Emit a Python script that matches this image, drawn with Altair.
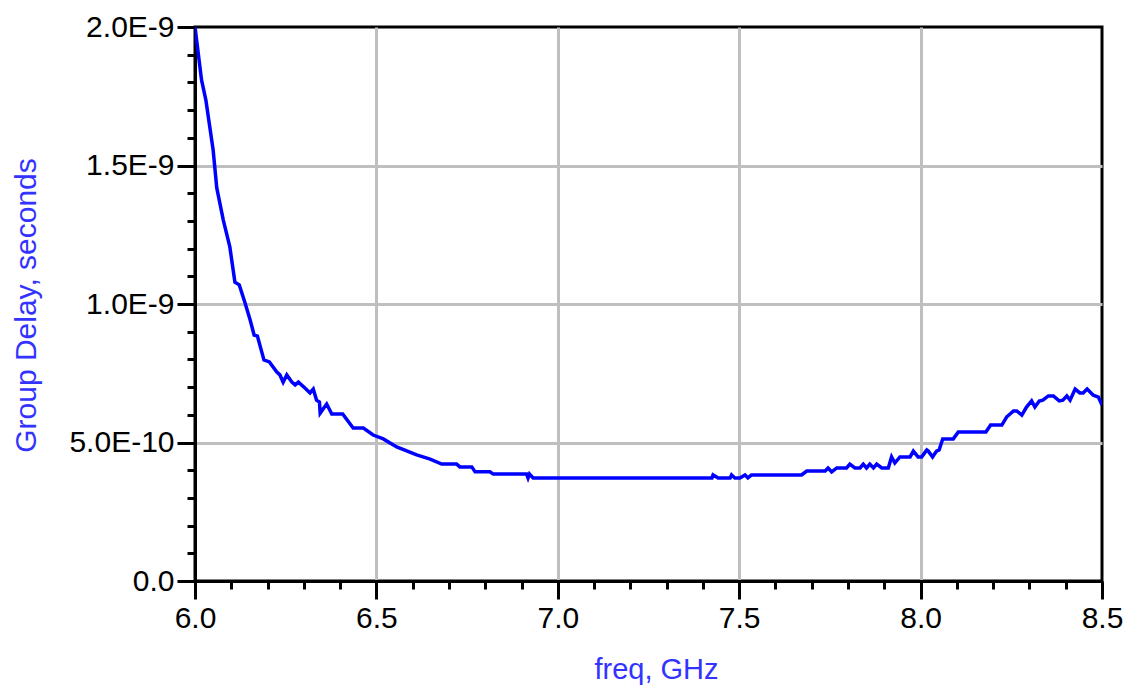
import altair as alt
import pandas as pd

freq_ghz = [
    6.000, 6.018, 6.030, 6.050, 6.060, 6.078, 6.096, 6.110, 6.122, 6.138,
    6.152, 6.163, 6.172, 6.190, 6.205, 6.225, 6.234, 6.243, 6.253, 6.267,
    6.276, 6.285, 6.303, 6.317, 6.326, 6.335, 6.343, 6.345, 6.363, 6.377,
    6.407, 6.436, 6.464, 6.491, 6.519, 6.556, 6.611, 6.648, 6.680, 6.721,
    6.730, 6.763, 6.772, 6.813, 6.822, 6.914, 6.918, 6.922, 6.932, 7.425,
    7.428, 7.442, 7.475, 7.479, 7.488, 7.502, 7.516, 7.524, 7.534, 7.672,
    7.686, 7.737, 7.745, 7.755, 7.769, 7.796, 7.805, 7.819, 7.833, 7.842,
    7.851, 7.860, 7.870, 7.879, 7.893, 7.911, 7.920, 7.929, 7.943, 7.971,
    7.980, 7.993, 8.003, 8.017, 8.021, 8.033, 8.044, 8.051, 8.061, 8.090,
    8.104, 8.180, 8.193, 8.224, 8.237, 8.256, 8.265, 8.279, 8.292, 8.306,
    8.315, 8.327, 8.337, 8.352, 8.366, 8.382, 8.392, 8.403, 8.412, 8.426,
    8.439, 8.448, 8.459, 8.476, 8.490, 8.500,
]

delay_s = [
    20.00e-10, 18.09e-10, 17.36e-10, 15.56e-10, 14.19e-10, 13.03e-10, 12.06e-10, 10.79e-10, 10.69e-10, 10.04e-10,
    9.42e-10, 8.88e-10, 8.84e-10, 7.98e-10, 7.91e-10, 7.55e-10, 7.44e-10, 7.18e-10, 7.44e-10, 7.18e-10,
    7.08e-10, 7.18e-10, 6.97e-10, 6.79e-10, 6.93e-10, 6.53e-10, 6.46e-10, 6.06e-10, 6.39e-10, 6.03e-10,
    6.03e-10, 5.52e-10, 5.52e-10, 5.27e-10, 5.13e-10, 4.84e-10, 4.55e-10, 4.40e-10, 4.22e-10, 4.22e-10,
    4.12e-10, 4.12e-10, 3.94e-10, 3.94e-10, 3.86e-10, 3.86e-10, 3.72e-10, 3.86e-10, 3.72e-10, 3.72e-10,
    3.83e-10, 3.72e-10, 3.72e-10, 3.83e-10, 3.72e-10, 3.72e-10, 3.83e-10, 3.72e-10, 3.83e-10, 3.83e-10,
    3.97e-10, 3.97e-10, 4.08e-10, 3.94e-10, 4.08e-10, 4.08e-10, 4.22e-10, 4.08e-10, 4.08e-10, 4.22e-10,
    4.08e-10, 4.22e-10, 4.08e-10, 4.22e-10, 4.08e-10, 4.08e-10, 4.48e-10, 4.26e-10, 4.48e-10, 4.48e-10,
    4.69e-10, 4.48e-10, 4.48e-10, 4.73e-10, 4.69e-10, 4.48e-10, 4.69e-10, 4.73e-10, 5.13e-10, 5.13e-10,
    5.38e-10, 5.38e-10, 5.63e-10, 5.63e-10, 5.92e-10, 6.14e-10, 6.14e-10, 5.99e-10, 6.28e-10, 6.50e-10,
    6.28e-10, 6.50e-10, 6.53e-10, 6.68e-10, 6.68e-10, 6.50e-10, 6.53e-10, 6.68e-10, 6.53e-10, 6.93e-10,
    6.79e-10, 6.79e-10, 6.93e-10, 6.71e-10, 6.64e-10, 6.35e-10,
]

x_tick_values = [6.0, 6.1, 6.2, 6.3, 6.4, 6.5, 6.6, 6.7, 6.8, 6.9,
                 7.0, 7.1, 7.2, 7.3, 7.4, 7.5, 7.6, 7.7, 7.8, 7.9,
                 8.0, 8.1, 8.2, 8.3, 8.4, 8.5]
y_tick_values = [0.0, 1e-10, 2e-10, 3e-10, 4e-10, 5e-10, 6e-10, 7e-10, 8e-10, 9e-10,
                 10e-10, 11e-10, 12e-10, 13e-10, 14e-10, 15e-10, 16e-10, 17e-10, 18e-10, 19e-10,
                 20e-10]

x_title = "freq, GHz"
y_title = "Group Delay, seconds"

df = pd.DataFrame({"freq": freq_ghz, "delay": delay_s})

X_MAJOR = "abs(datum.value*2 - round(datum.value*2)) < 1e-6"
Y_MAJOR = "abs(datum.value*2e9 - round(datum.value*2e9)) < 1e-6"

TITLE_COLOR = "#3333ff"
FONT = "Liberation Sans"

x_axis = alt.Axis(
    values=x_tick_values,
    labelExpr=f"({X_MAJOR}) ? format(datum.value, '.1f') : ''",
    tickSize={"condition": {"test": X_MAJOR, "value": 18}, "value": 8},
    gridOpacity={"condition": {"test": f"({X_MAJOR}) && datum.value > 6.01 && datum.value < 8.49", "value": 1}, "value": 0},
    labelPadding=4,
    titleX=461,
    titleY=74,
    titleFontSize=29,
    titleBaseline="top",
    titleAnchor="start",
    titleAlign="center",
)

y_axis = alt.Axis(
    values=y_tick_values,
    labelExpr=f"({Y_MAJOR}) ? (datum.value < 1e-12 ? '0.0' : upper(format(datum.value, '.1e'))) : ''",
    tickSize={"condition": {"test": Y_MAJOR, "value": 18}, "value": 8},
    gridOpacity={"condition": {"test": f"({Y_MAJOR}) && datum.value > 1e-12 && datum.value < 1.99e-9", "value": 1}, "value": 0},
    labelPadding=3,
    titleX=-154,
    titleY=278,
    titleAngle=270,
    titleBaseline="bottom",
    titleAlign="center",
    titleAnchor="start",
)

line = alt.Chart(df).mark_line(color="#0000ff", strokeWidth=3.5, clip=True).encode(
    x=alt.X("freq:Q", title=x_title,
            scale=alt.Scale(domain=[6.0, 8.5], nice=False, zero=False),
            axis=x_axis),
    y=alt.Y("delay:Q", title=y_title,
            scale=alt.Scale(domain=[0, 2e-9], nice=False),
            axis=y_axis),
)

chart = line.properties(
    width=907,
    height=554,
    autosize=alt.AutoSizeParams(type="none"),
    padding={"left": 187, "top": 19, "right": 22, "bottom": 104},
    background="white",
).configure_view(
    stroke="black",
    strokeWidth=3,
).configure_axis(
    domainColor="black",
    domainWidth=3,
    tickColor="black",
    tickWidth=3,
    grid=True,
    gridColor="#bfbfbf",
    gridWidth=3,
    labelFont=FONT,
    labelFontSize=30,
    labelColor="black",
    labelOverlap=False,
    labelFlush=False,
    titleFont=FONT,
    titleFontSize=30,
    titleFontWeight="normal",
    titleColor=TITLE_COLOR,
)

chart.save("out.html", embed_options={"renderer": "svg", "actions": False})
